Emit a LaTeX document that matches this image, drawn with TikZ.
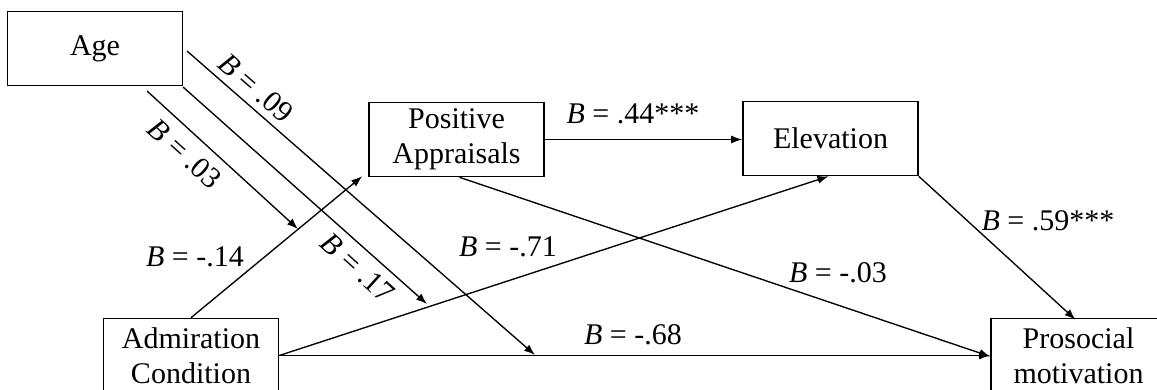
\documentclass[tikz,border=0pt]{standalone}
\usepackage{fontspec}
\setmainfont{Liberation Serif}
\usetikzlibrary{arrows.meta}
\begin{document}
\begin{tikzpicture}[x=1pt,y=-1pt,
  box/.style={draw, line width=1.6pt, minimum width=175pt, minimum height=74pt, inner sep=0pt, align=center, font=\fontsize{30}{35}\selectfont},
  con/.style={line width=1.35pt, -{Latex[length=11pt,width=8pt]}},
  lab/.style={font=\fontsize{30}{35}\selectfont, inner sep=0pt}]
\clip (0,0) rectangle (1157,390);
\fill[white] (0,0) rectangle (1157,390);
% boxes
\node[box] (age)  at (95,48.5)    {Age};
\node[box] (pos)  at (456.5,139.5) {Positive\\Appraisals};
\node[box] (elev) at (830.5,138.5) {Elevation};
\node[box] (adm)  at (191,355.5)   {Admiration\\Condition};
\node[box] (pro)  at (1078.5,355.5) {Prosocial\\motivation};
% free ends of the moderation arrows
\coordinate (a1) at (187,51);
\coordinate (a2) at (183,87);
\coordinate (a3) at (147,91);
\coordinate (t1) at (535,355);
\coordinate (t2) at (427,304);
\coordinate (t3) at (298,229);
% main paths
\draw[con] (adm.north) -- ([xshift=-6pt,yshift=1pt]pos.south west);
\draw[con] (adm.east) -- ([xshift=-2pt]elev.south);
\draw[con] (adm.east) -- (pro.west);
\draw[con] ([xshift=3pt]pos.south) -- ([yshift=-1pt]pro.west);
\draw[con] (pos.east) -- (pos.east -| elev.west);
\draw[con] (elev.south east) -- ([xshift=-3pt,yshift=-2pt]pro.north);
% moderation arrows from Age
\draw[con] (a1) -- (t1);
\draw[con] (a2) -- (t2);
\draw[con] (a3) -- (t3);
% labels
\node[lab, rotate=-41] (l09) at (256,88) {\textit{B} = .09};
\node[lab, rotate=-42] (l03) at (185,154) {\textit{B} = .03};
\node[lab, rotate=-42] (l17) at (358,268) {\textit{B} = .17};
\node[lab] (l14) at (195,257) {\textit{B} = -.14};
\node[lab] (l71) at (508,247) {\textit{B} = -.71};
\node[lab] (l44) at (633,114) {\textit{B} = .44***};
\node[lab] (l03b) at (838,273) {\textit{B} = -.03};
\node[lab] (l68) at (633,335) {\textit{B} = -.68};
\node[lab] (l59) at (1048,221) {\textit{B} = .59***};
\end{tikzpicture}
\end{document}
